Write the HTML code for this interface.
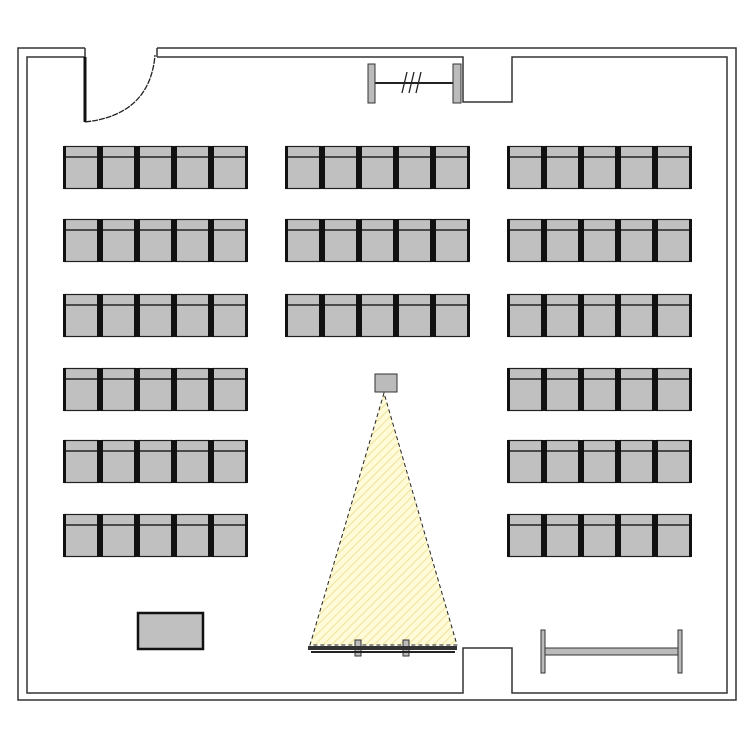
<!DOCTYPE html>
<html><head><meta charset="utf-8"><style>html,body{margin:0;padding:0;background:#fff}svg{display:block}</style></head>
<body>
<svg width="750" height="750" viewBox="0 0 750 750" xmlns="http://www.w3.org/2000/svg">
<defs>
<g id="ch">
<rect x="1.5" y="0.5" width="34" height="42" fill="#c0c0c0" stroke="#222" stroke-width="1.2"/>
<line x1="2" y1="11" x2="35" y2="11" stroke="#222" stroke-width="1.5"/>
<rect x="0" y="0" width="3" height="43" fill="#111"/>
<rect x="34" y="0" width="3" height="43" fill="#111"/>
</g>
<g id="row"><use href="#ch" x="0"/><use href="#ch" x="37"/><use href="#ch" x="74"/><use href="#ch" x="111"/><use href="#ch" x="148"/></g>
<pattern id="hatch" width="6" height="6" patternUnits="userSpaceOnUse" patternTransform="rotate(45)">
<rect width="6" height="6" fill="#fffbd8"/><line x1="0" y1="0" x2="0" y2="6" stroke="#eee39a" stroke-width="2"/>
</pattern>
</defs>
<g fill="none" stroke="#333" stroke-width="1.5">
<!-- outer wall -->
<polyline points="85,48 18,48 18,700 736,700 736,48 157,48"/>
<!-- inner wall -->
<polyline points="85,57 27,57 27,693 463,693 463,648 512,648 512,693 727,693 727,57 512,57 512,102 463,102 463,57 157,57"/>
<line x1="85" y1="48" x2="85" y2="57"/>
<line x1="157" y1="48" x2="157" y2="57"/>
</g>
<!-- door -->
<line x1="85" y1="57" x2="85" y2="122" stroke="#111" stroke-width="3"/>
<path d="M85,122 Q150,115 155,55" fill="none" stroke="#222" stroke-width="1.3" stroke-dasharray="6,1"/>
<!-- top screen -->
<line x1="372" y1="83" x2="456" y2="83" stroke="#222" stroke-width="2"/>
<rect x="368" y="64" width="7" height="39" fill="#bbb" stroke="#333"/>
<rect x="453" y="64" width="8" height="39" fill="#bbb" stroke="#333"/>
<g stroke="#222" stroke-width="1.3"><line x1="407" y1="72" x2="402" y2="93"/><line x1="414" y1="72" x2="409" y2="93"/><line x1="421" y1="72" x2="416" y2="93"/></g>
<!-- chairs -->
<use href="#row" x="63" y="146"/><use href="#row" x="285" y="146"/><use href="#row" x="507" y="146"/>
<use href="#row" x="63" y="219"/><use href="#row" x="285" y="219"/><use href="#row" x="507" y="219"/>
<use href="#row" x="63" y="294"/><use href="#row" x="285" y="294"/><use href="#row" x="507" y="294"/>
<use href="#row" x="63" y="368"/><use href="#row" x="507" y="368"/>
<use href="#row" x="63" y="440"/><use href="#row" x="507" y="440"/>
<use href="#row" x="63" y="514"/><use href="#row" x="507" y="514"/>
<!-- projector beam -->
<polygon points="384,393 310,645 457,645" fill="url(#hatch)" stroke="#222" stroke-width="1" stroke-dasharray="4,3"/>
<rect x="375" y="374" width="22" height="18" fill="#bbb" stroke="#333"/>
<!-- whiteboard -->
<rect x="355" y="640" width="6" height="16" fill="#bbb" stroke="#333"/>
<rect x="403" y="640" width="6" height="16" fill="#bbb" stroke="#333"/>
<rect x="308" y="646" width="149" height="4" fill="#333"/>
<line x1="311" y1="652" x2="455" y2="652" stroke="#222" stroke-width="2"/>
<!-- right table -->
<rect x="543" y="648" width="137" height="7" fill="#bbb" stroke="#333"/>
<rect x="541" y="630" width="4" height="43" fill="#bbb" stroke="#333"/>
<rect x="678" y="630" width="4" height="43" fill="#bbb" stroke="#333"/>
<!-- desk -->
<rect x="138" y="613" width="65" height="36" fill="#c0c0c0" stroke="#111" stroke-width="2.5"/>
</svg>
</body></html>
